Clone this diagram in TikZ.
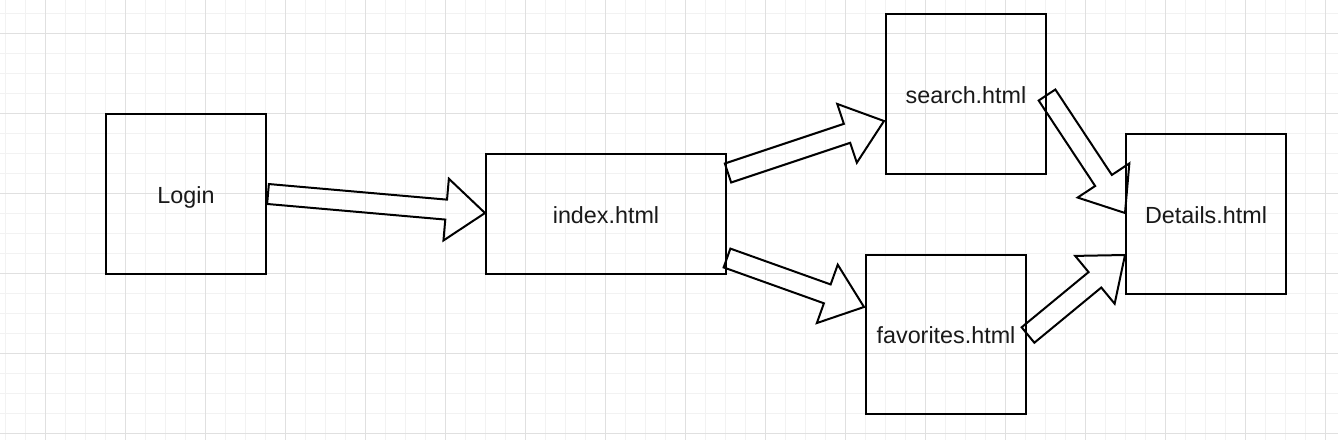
\documentclass[tikz,border=0pt]{standalone}
\usepackage{fontspec}
\setmainfont{Liberation Sans}
\usetikzlibrary{calc}
\definecolor{gridminor}{HTML}{F2F2F2}
\definecolor{gridmajor}{HTML}{E0E0E0}
\tikzset{
  page/.style={x=0.75pt,y=-0.75pt},
  box/.style={draw=black,line width=1.5pt,inner sep=0pt,
    font=\fontsize{17.5}{20}\selectfont,text=black!90,
    text height=16pt,text depth=2.5pt},
  flexline/.style={draw=black,line width=1.5pt,line join=miter},
}
% block arrow from #1 to #2
\newcommand\flexarrow[2]{%
  \coordinate (fa-s) at (#1);
  \coordinate (fa-e) at (#2);
  \coordinate (fa-b) at ($(fa-e)!29.25pt!(fa-s)$);
  \draw[flexline]
    ($(fa-s)!7.5pt!90:(fa-e)$) -- ($(fa-b)!7.5pt!90:(fa-e)$) --
    ($(fa-b)!23.25pt!90:(fa-e)$) -- (fa-e) --
    ($(fa-b)!23.25pt!-90:(fa-e)$) -- ($(fa-b)!7.5pt!-90:(fa-e)$) --
    ($(fa-s)!7.5pt!-90:(fa-e)$) -- cycle;
}
\begin{document}
\begin{tikzpicture}[page]
\useasboundingbox (0,0) rectangle (1338,440);
\fill[white] (0,0) rectangle (1338,440);
% grid
\foreach \x in {5,25,...,1338} \draw[gridminor,line width=0.75pt] (\x,0) -- (\x,440);
\foreach \y in {13,33,...,440} \draw[gridminor,line width=0.75pt] (0,\y) -- (1338,\y);
\foreach \x in {45,125,...,1338} \draw[gridmajor,line width=0.75pt] (\x,0) -- (\x,440);
\foreach \y in {33,113,...,440} \draw[gridmajor,line width=0.75pt] (0,\y) -- (1338,\y);
% nodes
\node[box,minimum width=120pt,minimum height=120pt] (login) at (186,194) {Login};
\node[box,minimum width=180pt,minimum height=90pt] (index) at (606,214) {index.html};
\node[box,minimum width=120pt,minimum height=120pt] (search) at (966,94) {search.html};
\node[box,minimum width=120pt,minimum height=119.25pt] (fav) at (946,334.5) {favorites.html};
\node[box,minimum width=120pt,minimum height=120pt] (details) at (1206,214) {Details.html};
% arrows
\flexarrow{$(login.east)+(1,0)$}{$(index.west)+(0,-1)$}
\flexarrow{$(index.east)+(1,-41)$}{$(search.west)+(-1,27)$}
\flexarrow{$(index.east)+(0,44)$}{$(fav.west)+(-1,-27.5)$}
\flexarrow{$(search.east)+(0,1)$}{$(details.west)+(0,-1)$}
\flexarrow{$(fav.east)+(1,0.5)$}{$(details.west)+(0,41)$}
\end{tikzpicture}
\end{document}
